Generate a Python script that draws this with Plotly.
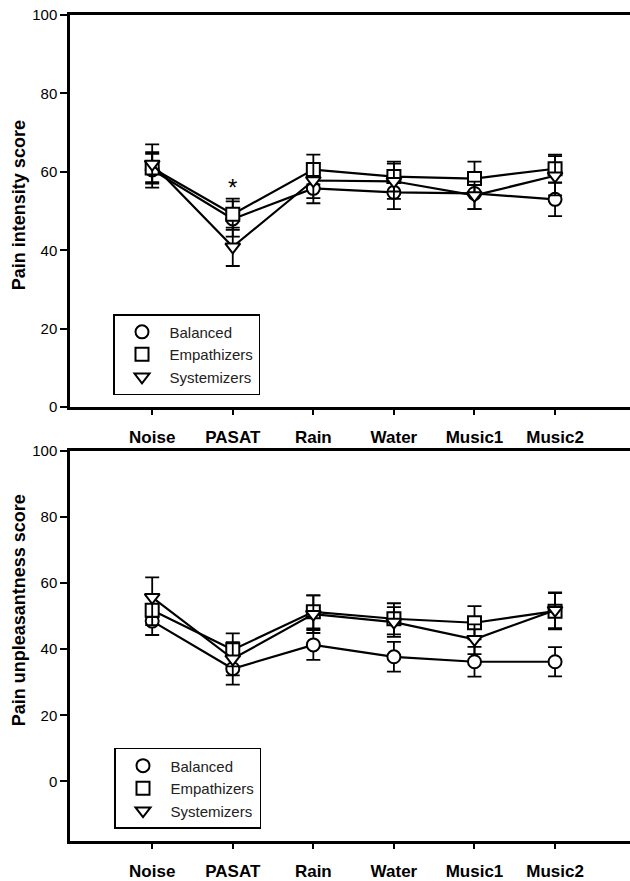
import plotly.graph_objects as go

categories = ["Noise", "PASAT", "Rain", "Water", "Music1", "Music2"]
groups = ["Balanced", "Empathizers", "Systemizers"]
symbols = ["circle", "square", "triangle-down"]

# Pain intensity (top)
int_bal = [60.5, 48.0, 55.8, 54.8, 54.5, 53.0]
int_bal_err = [4.5, 4.5, 3.8, 4.3, 4.0, 4.3]
int_emp = [61.0, 49.2, 60.6, 58.8, 58.3, 60.8]
int_emp_err = [3.6, 4.0, 3.8, 3.8, 4.3, 3.6]
int_sys = [62.0, 40.9, 57.8, 57.6, 54.0, 59.0]
int_sys_err = [5.0, 4.9, 4.5, 4.5, 3.5, 5.0]

# Pain unpleasantness (bottom)
unp_bal = [48.5, 34.1, 41.3, 37.7, 36.2, 36.2]
unp_bal_err = [4.2, 4.8, 4.5, 4.5, 4.5, 4.4]
unp_emp = [51.8, 39.8, 51.3, 49.2, 48.0, 51.5]
unp_emp_err = [4.5, 5.0, 5.0, 4.7, 5.0, 5.5]
unp_sys = [55.7, 37.1, 50.6, 48.2, 43.0, 51.8]
unp_sys_err = [6.0, 5.0, 5.7, 4.5, 4.5, 5.4]

FONT = "Liberation Sans, Arial, sans-serif"

fig = go.Figure()

def add_series(vals, errs, sym, xa, ya):
    fig.add_trace(go.Scatter(
        x=categories, y=vals, mode="lines+markers", xaxis=xa, yaxis=ya,
        showlegend=False,
        line=dict(color="black", width=2.2),
        marker=dict(symbol=sym, size=13, color="white",
                    line=dict(color="black", width=2)),
        error_y=dict(type="data", array=errs, visible=True,
                     color="black", thickness=1.8, width=7),
    ))

top = [(int_bal, int_bal_err), (int_emp, int_emp_err), (int_sys, int_sys_err)]
bot = [(unp_bal, unp_bal_err), (unp_emp, unp_emp_err), (unp_sys, unp_sys_err)]
for (v, e), s in zip(top, symbols):
    add_series(v, e, s, "x", "y")
for (v, e), s in zip(bot, symbols):
    add_series(v, e, s, "x2", "y2")

# legend-only entries
for lg, xa, ya in [("legend", "x", "y"), ("legend2", "x2", "y2")]:
    for g, s in zip(groups, symbols):
        fig.add_trace(go.Scatter(
            x=[None], y=[None], mode="markers", name=g, legend=lg,
            xaxis=xa, yaxis=ya,
            marker=dict(symbol=s, size=13, color="white",
                        line=dict(color="black", width=2)),
        ))

H = 881
mt, mb = 15, 32
ph = H - mt - mb
def py(p):
    return (H - mb - p) / ph

xcommon = dict(
    type="category", range=[-1.02, 5.93], showline=True, linecolor="black",
    linewidth=2.5, mirror=True, ticks="outside", ticklen=5, tickwidth=1.5,
    tickcolor="black", showgrid=False, zeroline=False,
    tickvals=categories, ticktext=["<b>%s</b>" % c for c in categories],
    tickfont=dict(family=FONT, size=17, color="black"),
    ticklabelstandoff=8,
)
ycommon = dict(
    showline=True, linecolor="black", linewidth=2.5, ticks="outside",
    ticklen=7, tickwidth=2, tickcolor="black", showgrid=False,
    zeroline=False, tickfont=dict(family=FONT, size=15, color="black"),
)

fig.update_layout(
    width=630, height=H,
    margin=dict(l=70, r=0, t=mt, b=mb),
    plot_bgcolor="white", paper_bgcolor="white",
    xaxis=dict(anchor="y", domain=[0, 1], **xcommon),
    xaxis2=dict(anchor="y2", domain=[0, 1], **xcommon),
    yaxis=dict(anchor="x", domain=[py(411), 1], range=[0, 100],
               tickvals=[0, 20, 40, 60, 80, 100], **ycommon),
    yaxis2=dict(anchor="x2", domain=[0, py(455)], range=[-18, 100],
                tickvals=[0, 20, 40, 60, 80, 100], **ycommon),
    legend=dict(x=(113 - 70) / 560, y=py(317), xanchor="left", yanchor="top",
                bordercolor="black", borderwidth=1.5, bgcolor="white",
                font=dict(family=FONT, size=15, color="#222"), itemwidth=45),
    legend2=dict(x=(114 - 70) / 560, y=py(755), xanchor="left", yanchor="top",
                 bordercolor="black", borderwidth=1.5, bgcolor="white",
                 font=dict(family=FONT, size=15, color="#222"), itemwidth=45),
    annotations=[
        dict(text="<b>Pain intensity score</b>", xref="paper", yref="paper",
             x=(19 - 70) / 560, y=py(207), textangle=-90, showarrow=False,
             xanchor="center", yanchor="middle",
             font=dict(family=FONT, size=18, color="black")),
        dict(text="<b>Pain unpleasantness score</b>", xref="paper", yref="paper",
             x=(19 - 70) / 560, y=py(616), textangle=-90, showarrow=False,
             xanchor="center", yanchor="middle",
             font=dict(family=FONT, size=18, color="black")),
        dict(text="*", xref="x", yref="y", x="PASAT", y=56, showarrow=False,
             xanchor="center", yanchor="middle",
             font=dict(family=FONT, size=24, color="black")),
    ],
)

fig.write_html("out.html")
